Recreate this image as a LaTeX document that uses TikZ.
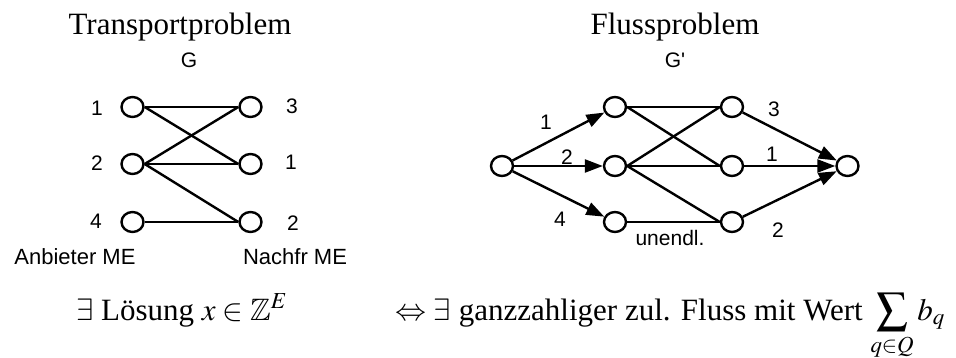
\documentclass[tikz,border=0pt]{standalone}
\usepackage{mathptmx}
\usepackage{amssymb}
\usepackage{fontspec}
\setmainfont{Liberation Serif}
\newfontfamily\arialfont{Liberation Sans}
\usetikzlibrary{arrows.meta,shapes.geometric}

\tikzset{
  vtx/.style={ellipse,draw,line width=2.4pt,minimum width=22pt,minimum height=20pt,inner sep=0pt},
  lbl/.style={font=\arialfont\fontsize{21}{25}\selectfont,inner sep=0pt},
  sidelbl/.style={font=\arialfont\fontsize{22}{26}\selectfont,inner sep=0pt},
  title/.style={font=\fontsize{31}{37}\selectfont,inner sep=0pt,anchor=base},
  stmt/.style={font=\fontsize{31}{37}\selectfont,inner sep=0pt,anchor=base west},
  edge/.style={line width=2.4pt},
  arc/.style={line width=2.4pt,-{Triangle[length=18pt,width=13pt]}},
}

\begin{document}
\begin{tikzpicture}[x=1pt,y=-1pt]
\useasboundingbox (0,0) rectangle (956,358);

% ---------- transport problem ----------
\node[title] (t1) at (180,35) {Transportproblem};
\node[lbl] (g) at (189,60) {G};

\node[vtx] (a1) at (132.5,107) {};
\node[vtx] (a2) at (132.5,164) {};
\node[vtx] (a4) at (132.5,222) {};
\node[vtx] (b3) at (250.5,107) {};
\node[vtx] (b1) at (250.5,164) {};
\node[vtx] (b2) at (250.5,222) {};

\node[lbl] (la1) at (97,108) {1};
\node[lbl] (la2) at (97,163) {2};
\node[lbl] (la4) at (96,221) {4};
\node[lbl] (lb3) at (292,106) {3};
\node[lbl] (lb1) at (291,162) {1};
\node[lbl] (lb2) at (293,223) {2};

\node[sidelbl] (supp) at (75,257) {Anbieter ME};
\node[sidelbl] (dem) at (295,257) {Nachfr ME};

\draw[edge] (a1.east) -- (b3.west);
\draw[edge] (a1.east) -- (b1.west);
\draw[edge] (a2.east) -- (b3.west);
\draw[edge] (a2.east) -- (b1.west);
\draw[edge] (a2.east) -- (b2.west);
\draw[edge] (a4.east) -- (b2.west);

% ---------- flow problem ----------
\node[title] (t2) at (675,35) {Flussproblem};
\node[lbl] (gp) at (675,60) {G'};

\node[vtx] (s) at (502,166) {};
\node[vtx] (c1) at (615,107) {};
\node[vtx] (c2) at (615,166) {};
\node[vtx] (c4) at (615,222) {};
\node[vtx] (d3) at (732,107) {};
\node[vtx] (d1) at (732,166) {};
\node[vtx] (d2) at (732,222) {};
\node[vtx] (t) at (847.5,166) {};

\draw[arc] (s) -- (c1);
\draw[arc] (s) -- (c2);
\draw[arc] (s) -- (c4);

\draw[edge] (c1.east) -- (d3.west);
\draw[edge] (c1.east) -- (d1.west);
\draw[edge] (c2.east) -- (d3.west);
\draw[edge] (c2.east) -- (d1.west);
\draw[edge] (c2.east) -- (d2.west);
\draw[edge] (c4.east) -- (d2.west);

\draw[arc] (d3) -- (t);
\draw[arc] (d1) -- (t);
\draw[arc] (d2) -- (t);

\node[lbl] (lc1) at (546,122) {1};
\node[lbl] (lc2) at (567,157) {2};
\node[lbl] (lc4) at (560,219) {4};
\node[lbl] (ld3) at (774,109) {3};
\node[lbl] (ld1) at (772,154) {1};
\node[lbl] (ld2) at (778,230) {2};
\node[lbl] (inf) at (670,238) {unendl.};

% ---------- statements ----------
\node[stmt] (st1) at (76,320) {$\exists$ Lösung $x\in\mathbb{Z}^E$};
\node[stmt] (st2) at (395,320) {$\Leftrightarrow$ $\exists$ ganzzahliger zul. Fluss mit Wert $\displaystyle\sum_{q\in Q} b_q$};
\end{tikzpicture}
\end{document}
